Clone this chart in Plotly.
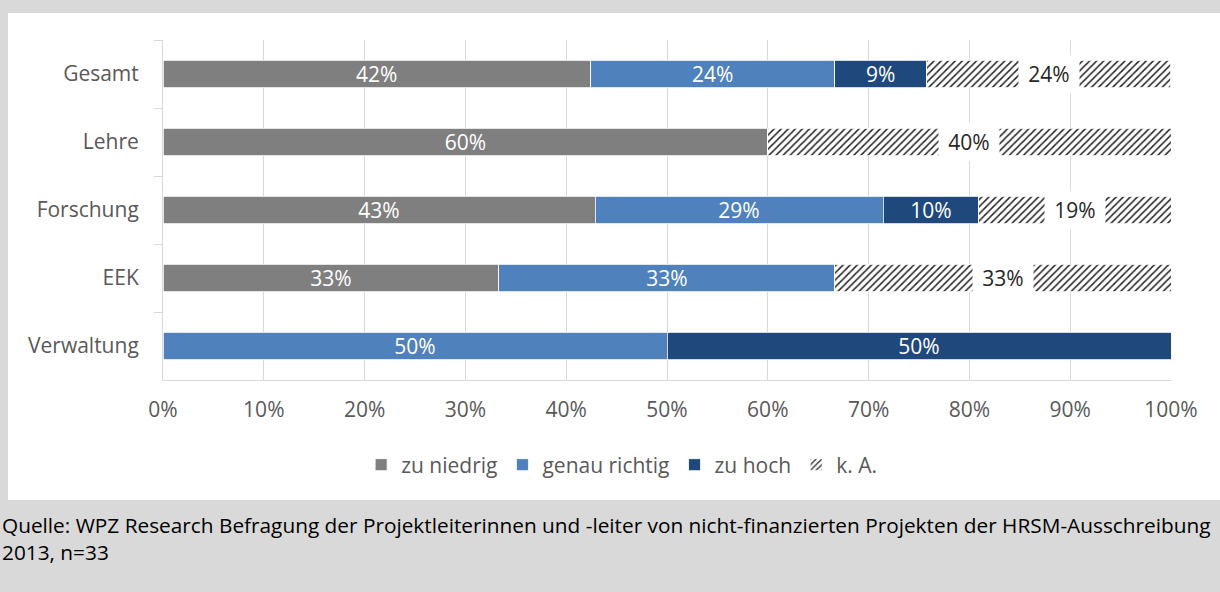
import plotly.graph_objects as go

categories = ["Gesamt", "Lehre", "Forschung", "EEK", "Verwaltung"]
series_names = ["zu niedrig", "genau richtig", "zu hoch", "k. A."]
zu_niedrig = [42.42, 60.0, 42.86, 33.33, 0.0]
genau_richtig = [24.24, 0.0, 28.57, 33.33, 50.0]
zu_hoch = [9.09, 0.0, 9.52, 0.0, 50.0]
k_a = [24.24, 40.0, 19.05, 33.34, 0.0]
x_ticks = [0, 10, 20, 30, 40, 50, 60, 70, 80, 90, 100]
x_tick_labels = [f"{t}%" for t in x_ticks]
caption = ("Quelle: WPZ Research Befragung der Projektleiterinnen und -leiter von nicht-finanzierten "
           "Projekten der HRSM-Ausschreibung<br>2013, n=33")

colors = ["#7f7f7f", "#4f81bd", "#1f497d"]
FONT = "Open Sans, Noto Sans, sans-serif"
FS = 21

def labels(vals):
    return [f"{round(v)}%" if v > 0 else "" for v in vals]

fig = go.Figure()
for name, vals, col in zip(series_names[:3], [zu_niedrig, genau_richtig, zu_hoch], colors):
    fig.add_trace(go.Bar(
        y=categories, x=vals, name=name, orientation="h",
        marker=dict(color=col, line=dict(color="white", width=0.8)),
        text=labels(vals), textposition="inside", insidetextanchor="middle",
        textangle=0, constraintext="none",
        textfont=dict(color="white", size=FS, family=FONT),
        hoverinfo="skip",
    ))

fig.add_trace(go.Bar(
    y=categories, x=k_a, name=series_names[3], orientation="h",
    marker=dict(color="#262626", line=dict(color="white", width=0.8),
                pattern=dict(shape="/", fgcolor="#262626", bgcolor="white",
                             size=5, solidity=0.3, fillmode="replace")),
    hoverinfo="skip",
))

annotations = []
for i, cat in enumerate(categories):
    if k_a[i] > 0:
        start = zu_niedrig[i] + genau_richtig[i] + zu_hoch[i]
        annotations.append(dict(
            x=start + k_a[i] / 2, y=cat, xref="x", yref="y",
            text=f"{round(k_a[i])}%", showarrow=False,
            font=dict(color="#262626", size=FS, family=FONT),
            bgcolor="white", width=58, height=36,
        ))

annotations.append(dict(
    x=-0.1617, y=-0.38, xref="paper", yref="paper", xanchor="left", yanchor="top",
    text=caption, showarrow=False, align="left",
    font=dict(color="black", size=20.8, family=FONT),
))

fig.update_layout(
    width=1220, height=592,
    barmode="stack", bargap=0.6,
    paper_bgcolor="#d9d9d9", plot_bgcolor="white",
    margin=dict(l=163, r=49, t=40, b=212),
    font=dict(family=FONT, size=FS, color="#595959"),
    shapes=[dict(type="rect", xref="paper", yref="paper",
                 x0=-0.1538, x1=1.06, y0=-0.3529, y1=1.0794,
                 fillcolor="white", line=dict(width=0), layer="below")],
    annotations=annotations,
    legend=dict(orientation="h", x=0.455, xanchor="center", y=-0.25, yanchor="middle",
                font=dict(size=FS, color="#595959", family=FONT),
                traceorder="normal", itemwidth=30, bgcolor="rgba(0,0,0,0)"),
    xaxis=dict(range=[0, 100], tickvals=x_ticks, ticktext=x_tick_labels,
               showgrid=True, gridcolor="#d9d9d9", gridwidth=1,
               zeroline=False, showline=True, linecolor="#d9d9d9", linewidth=1,
               ticks="", ticklabelstandoff=11,
               tickfont=dict(size=FS, color="#595959", family=FONT)),
    yaxis=dict(autorange="reversed", showline=True, linecolor="#d9d9d9", linewidth=1,
               ticks="outside", tickson="boundaries", ticklen=8, tickcolor="#d9d9d9",
               showgrid=False, ticklabelstandoff=19,
               tickfont=dict(size=FS, color="#595959", family=FONT)),
)

fig.write_html("out.html", config={"displayModeBar": False},
               post_script="document.body.style.margin='0';document.body.style.background='#d9d9d9';")
